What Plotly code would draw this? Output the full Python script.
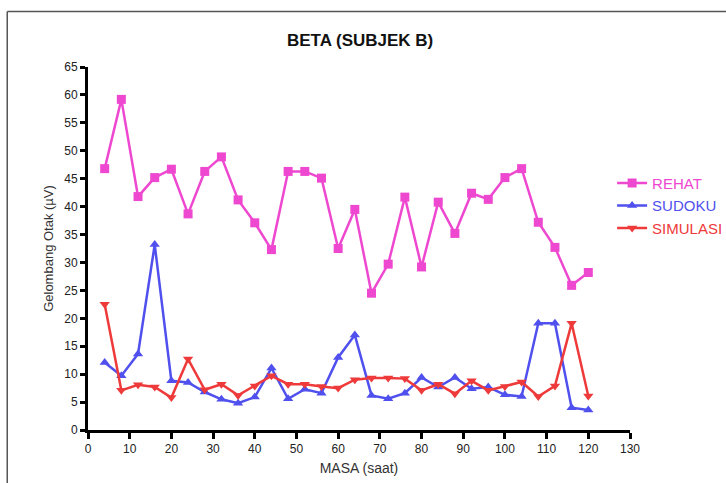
import plotly.graph_objects as go

# Time points (hours)
masa = [4, 8, 12, 16, 20, 24, 28, 32, 36, 40, 44, 48, 52, 56, 60,
        64, 68, 72, 76, 80, 84, 88, 92, 96, 100, 104, 108, 112, 116, 120]

# Beta wave amplitude (µV) per condition
rehat = [46.8, 59.2, 41.8, 45.2, 46.7, 38.7, 46.3, 48.9, 41.2, 37.1, 32.3, 46.3, 46.3, 45.1, 32.5,
         39.5, 24.5, 29.7, 41.7, 29.2, 40.8, 35.2, 42.4, 41.3, 45.2, 46.8, 37.2, 32.7, 25.9, 28.2]
sudoku = [12.1, 9.7, 13.6, 33.2, 8.8, 8.5, 6.8, 5.5, 4.8, 5.9, 11.1, 5.6, 7.3, 6.6, 13.0,
          17.0, 6.2, 5.6, 6.6, 9.4, 7.7, 9.4, 7.4, 7.7, 6.3, 6.0, 19.1, 19.1, 4.0, 3.6]
simulasi = [22.5, 7.1, 8.1, 7.7, 5.8, 12.7, 7.2, 8.2, 6.2, 7.9, 9.7, 8.2, 8.2, 7.8, 7.5,
            9.0, 9.3, 9.3, 9.2, 7.1, 8.2, 6.5, 8.8, 7.1, 7.8, 8.6, 6.0, 7.9, 19.1, 6.1]

x_ticks = list(range(0, 131, 10))
y_ticks = list(range(0, 66, 5))

C_REHAT = "#EE48D0"
C_SUDOKU = "#5050EE"
C_SIMULASI = "#EE3A3A"

fig = go.Figure()
series = [
    ("REHAT", rehat, C_REHAT, "square"),
    ("SUDOKU", sudoku, C_SUDOKU, "triangle-up"),
    ("SIMULASI", simulasi, C_SIMULASI, "triangle-down"),
]
for name, vals, col, sym in series:
    fig.add_trace(go.Scatter(
        x=masa, y=vals, mode="lines+markers",
        name=f'<span style="color:{col}">{name}</span>',
        line=dict(color=col, width=2.5),
        marker=dict(color=col, symbol=sym, size=9),
        cliponaxis=False,
    ))

tick_font = dict(family="Liberation Sans Narrow, Liberation Sans, Arial", size=12, color="#222")

fig.update_layout(
    width=726, height=483,
    margin=dict(l=88, r=96, t=67, b=53, autoexpand=False),
    paper_bgcolor="white", plot_bgcolor="white",
    title=dict(text="<b>BETA (SUBJEK B)</b>", x=0.496, xref="container", xanchor="center",
               y=1 - 40 / 483, yref="container", yanchor="middle",
               font=dict(family="Liberation Sans, Arial", size=17, color="#111")),
    showlegend=True,
    legend=dict(x=0.967, y=0.725, xanchor="left", yanchor="top",
                font=dict(family="Liberation Sans, Arial", size=15),
                itemwidth=30, tracegroupgap=0, bgcolor="rgba(0,0,0,0)"),
    xaxis=dict(range=[0, 130], tickvals=x_ticks, ticktext=[str(v) for v in x_ticks],
               showgrid=False, zeroline=False, showline=True, linecolor="black", linewidth=3,
               ticks="outside", ticklen=6, tickwidth=2.5, tickcolor="black",
               tickfont=tick_font,
               title=dict(text="MASA (saat)", standoff=8,
                          font=dict(family="Liberation Sans, Arial", size=14, color="#333"))),
    yaxis=dict(range=[0, 65], tickvals=y_ticks, ticktext=[str(v) for v in y_ticks],
               showgrid=False, zeroline=False, showline=True, linecolor="black", linewidth=3,
               ticks="outside", ticklen=5, tickwidth=2.5, tickcolor="black",
               tickfont=tick_font,
               title=dict(text="Gelombang Otak (µV)", standoff=8,
                          font=dict(family="Liberation Sans, Arial", size=13, color="#333"))),
    shapes=[
        dict(type="line", xref="paper", yref="paper", x0=-0.149, x1=1.2, y0=1.153, y1=1.153,
             line=dict(color="#555", width=1.5)),
        dict(type="line", xref="paper", yref="paper", x0=-0.149, x1=-0.149, y0=1.153, y1=-0.2,
             line=dict(color="#555", width=1.5)),
    ],
)

fig.write_html("out.html")
